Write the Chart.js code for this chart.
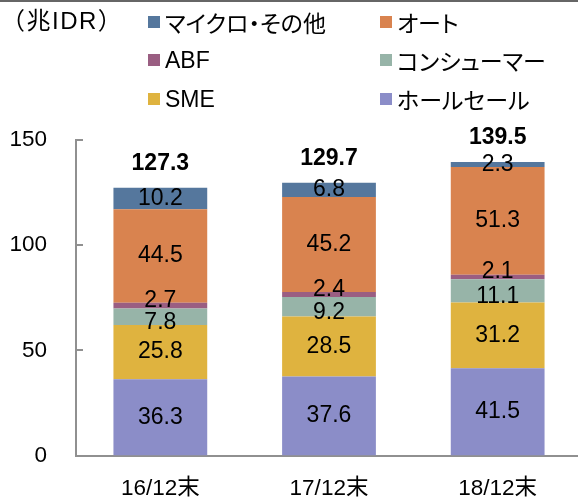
<!DOCTYPE html>
<html><head><meta charset="utf-8">
<script src="https://cdn.jsdelivr.net/npm/chart.js@4.4.1/dist/chart.umd.min.js"></script>
<style>
html,body{margin:0;padding:0;background:#fff;}
#wrap{position:relative;width:578px;height:498px;overflow:hidden;}
#topline{position:absolute;left:0;top:0;width:578px;height:2px;background:#666;}
canvas{position:absolute;left:0;top:0;}
.lg{position:absolute;display:flex;align-items:center;font-family:"Liberation Sans","Noto Sans CJK JP",sans-serif;font-size:23px;font-feature-settings:"palt";color:#000;white-space:nowrap;height:30px;}
.sq{width:12px;height:12px;margin-right:5px;flex:none;}
#unit{position:absolute;left:1px;top:6px;font-family:"Liberation Sans","Noto Sans CJK JP",sans-serif;font-size:24px;letter-spacing:1.5px;line-height:30px;}
</style></head>
<body>
<div id="wrap">
<canvas id="c" width="582" height="498"></canvas>
<div id="topline"></div>
<div id="unit">（兆IDR）</div>
</div>
<script>
const categories = ['16/12末', '17/12末', '18/12末'];
const wholesale = [36.3, 37.6, 41.5];
const sme = [25.8, 28.5, 31.2];
const consumer = [7.8, 9.2, 11.1];
const abf = [2.7, 2.4, 2.1];
const auto = [44.5, 45.2, 51.3];
const micro = [10.2, 6.8, 2.3];
const totals = [127.3, 129.7, 139.5];
const yTicks = [0, 50, 100, 150];
const unitLabel = '（兆IDR）';

const seriesNames = ['ホールセール', 'SME', 'コンシューマー', 'ABF', 'オート', 'マイクロ・その他'];
const seriesData = [wholesale, sme, consumer, abf, auto, micro];
const seriesColors = ['#8B8DC8', '#DFB33F', '#97B4A8', '#9A5E82', '#D9834F', '#55779D'];
const labelShift = [0, 0, 6, -5, 0, 0];

const datasets = seriesNames.map((n, i) => ({
  label: n, data: seriesData[i], backgroundColor: seriesColors[i],
  borderWidth: 0, barPercentage: 0.556, categoryPercentage: 1.0
}));

const legendOrder = [5, 4, 3, 2, 1, 0];
const colX = [148, 380];
const rowY = [7, 45, 84];
const wrap = document.getElementById('wrap');
legendOrder.forEach((si, k) => {
  const d = document.createElement('div');
  d.className = 'lg';
  d.style.left = colX[k % 2] + 'px';
  d.style.top = rowY[Math.floor(k / 2)] + 'px';
  const s = document.createElement('span');
  s.className = 'sq';
  s.style.background = seriesColors[si];
  const t = document.createElement('span');
  t.textContent = seriesNames[si];
  d.appendChild(s); d.appendChild(t);
  wrap.appendChild(d);
});
document.getElementById('unit').textContent = unitLabel;

const FONT = '"Liberation Sans","Noto Sans CJK JP",sans-serif';

const labelPlugin = {
  id: 'labels',
  afterDatasetsDraw(chart) {
    const ctx = chart.ctx;
    ctx.save();
    ctx.textAlign = 'center';
    ctx.textBaseline = 'middle';
    ctx.fillStyle = '#000';
    ctx.font = '23px ' + FONT;
    chart.data.datasets.forEach((ds, di) => {
      const meta = chart.getDatasetMeta(di);
      meta.data.forEach((el, j) => {
        const cy = (el.y + el.base) / 2 + labelShift[di];
        ctx.fillText(ds.data[j].toFixed(1), el.x, cy);
      });
    });
    ctx.font = 'bold 23px ' + FONT;
    const y = chart.scales.y;
    const x = chart.scales.x;
    totals.forEach((v, j) => {
      ctx.fillText(v.toFixed(1), x.getPixelForValue(j), y.getPixelForValue(v) - 24);
    });
    ctx.restore();
  },
  afterDraw(chart) {
    const ctx = chart.ctx;
    const y = chart.scales.y;
    const left = chart.chartArea.left;
    ctx.save();
    ctx.strokeStyle = '#909090';
    ctx.lineWidth = 2;
    yTicks.forEach(v => {
      if (v === 0) return;
      const py = Math.round(y.getPixelForValue(v));
      ctx.beginPath();
      ctx.moveTo(left - 1, py);
      ctx.lineTo(left + 7, py);
      ctx.stroke();
    });
    ctx.restore();
  }
};

new Chart(document.getElementById('c'), {
  type: 'bar',
  data: { labels: categories, datasets },
  options: {
    responsive: false,
    animation: false,
    events: [],
    layout: { padding: { top: 140, right: 0, bottom: 0, left: 0 } },
    plugins: { legend: { display: false }, tooltip: { enabled: false } },
    scales: {
      x: {
        stacked: true,
        grid: { display: false, drawTicks: false },
        border: { display: true, color: '#909090', width: 2 },
        ticks: { color: '#000', font: { family: FONT, size: 22.5 }, padding: 20, maxRotation: 0 },
        afterFit(s) { s.height = 41; }
      },
      y: {
        stacked: true,
        min: 0, max: 150,
        afterBuildTicks(s) { s.ticks = yTicks.map(v => ({ value: v })); },
        grid: { display: false, drawTicks: false },
        border: { display: true, color: '#909090', width: 2 },
        ticks: { color: '#000', font: { family: FONT, size: 22.5 }, padding: 29 },
        afterFit(s) { s.width = 76; }
      }
    }
  },
  plugins: [labelPlugin]
});
</script>
</body></html>
